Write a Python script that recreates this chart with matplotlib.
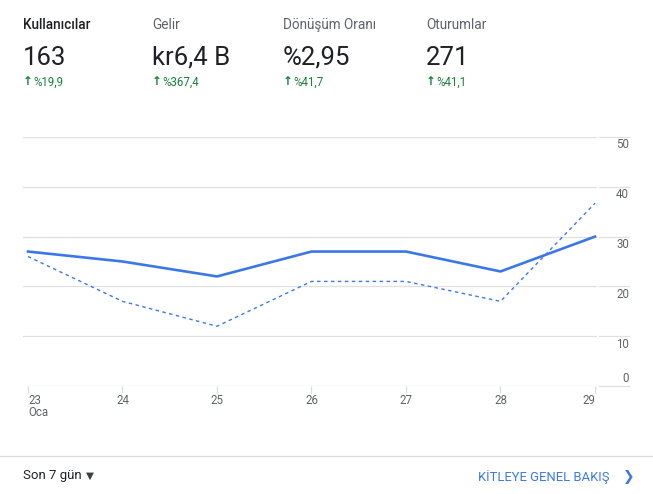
import matplotlib
matplotlib.use("Agg")
import matplotlib.pyplot as plt
from matplotlib.transforms import blended_transform_factory

plt.rcParams['font.family'] = ['Roboto', 'DejaVu Sans']

# header cards
card_titles = ["Kullanıcılar", "Gelir", "Dönüşüm Oranı", "Oturumlar"]
card_values = ["163", "kr6,4 B", "%2,95", "271"]
card_changes = ["%19,9", "%367,4", "%41,7", "%41,1"]

# chart data
days = ["23", "24", "25", "26", "27", "28", "29"]
current = [27, 25, 22, 27, 27, 23, 30]
previous = [26, 17, 12, 21, 21, 17, 36.7]
y_ticks = [0, 10, 20, 30, 40, 50]

W, H = 653, 494
fig = plt.figure(figsize=(W / 100, H / 100), dpi=100)

def fx(px):
    return px / W

def fy(py):
    return 1 - py / H

blue = "#3b78e7"
grey = "#5f6368"
dark = "#202124"
green = "#188038"
gridc = "#e0e0e0"

# header
card_x = [23, 152, 283, 426]
for i, (t, v, c) in enumerate(zip(card_titles, card_values, card_changes)):
    x = fx(card_x[i])
    fig.text(x, fy(25), t, fontsize=9.8, color=dark if i == 0 else grey,
             weight="medium" if i == 0 else "normal", va="center")
    fig.text(x, fy(58), v, fontsize=18.5, color=dark, va="center")
    fig.text(x, fy(81.5), "\u2191", fontsize=8.5, color=green, va="center",
             weight="bold", family=["DejaVu Sans"])
    fig.text(x + fx(10), fy(82), c, fontsize=8.3, color=green, va="center")

# chart axes: x px 23..597, y px 137 (50) .. 386 (0)
ax = fig.add_axes([fx(23), fy(386), fx(597 - 23), fy(137) - fy(386)])
xs = list(range(len(days)))
px_per_day = (595 - 28) / 6
ax.set_xlim(-5 / px_per_day, 6 + 2 / px_per_day)
ax.set_ylim(0, 50)

for v in y_ticks:
    ax.axhline(v, color=gridc if v else "#dadce0", lw=0.9, zorder=0)

ax.plot(xs, current, color=blue, lw=1.9, zorder=3, solid_joinstyle="round")
ax.plot(xs, previous, color=blue, lw=1.0, ls=(0, (2.5, 2.5)), zorder=2)

for s in ax.spines.values():
    s.set_visible(False)

ax.set_xticks(xs)
ax.set_xticklabels(days)
ax.tick_params(axis="x", length=5, width=0.9, color="#dadce0", pad=0.5,
               labelsize=8.3, labelcolor=grey)
labels = ax.get_xticklabels()
labels[0].set_ha("left")
labels[-1].set_ha("right")
ax.set_yticks([])

tr = blended_transform_factory(ax.transAxes, ax.transData)
x0 = (599 - 23) / (597 - 23)
x1 = (629 - 23) / (597 - 23)
px_per_unit = (386 - 137) / 50
for v in y_ticks:
    ax.plot([x0, x1], [v, v], color=gridc, lw=0.9, transform=tr, clip_on=False)
    off = -8 / px_per_unit if v else 8 / px_per_unit
    ax.text(x1, v + off, str(v), transform=tr, ha="right", va="center",
            fontsize=8.3, color=grey)

fig.text(fx(28), fy(412), "Oca", fontsize=8.3, color=grey, va="center")

# footer
fig.add_artist(plt.Line2D([0, 1], [fy(456), fy(456)], color="#dadce0", lw=0.9))
fig.text(fx(23), fy(475), "Son 7 gün", fontsize=9.5, color=dark, va="center")
fig.text(fx(86), fy(476), "\u25bc", fontsize=7.5, color="#3c4043", va="center",
         family=["DejaVu Sans"])
fig.text(fx(609), fy(477), "KİTLEYE GENEL BAKIŞ", fontsize=9.4, color=blue,
         va="center", ha="right")
fig.text(fx(629), fy(477), "\u276f", fontsize=10, color=blue, va="center",
         ha="center", family=["DejaVu Sans"])

fig.savefig("out.png", dpi=100)
